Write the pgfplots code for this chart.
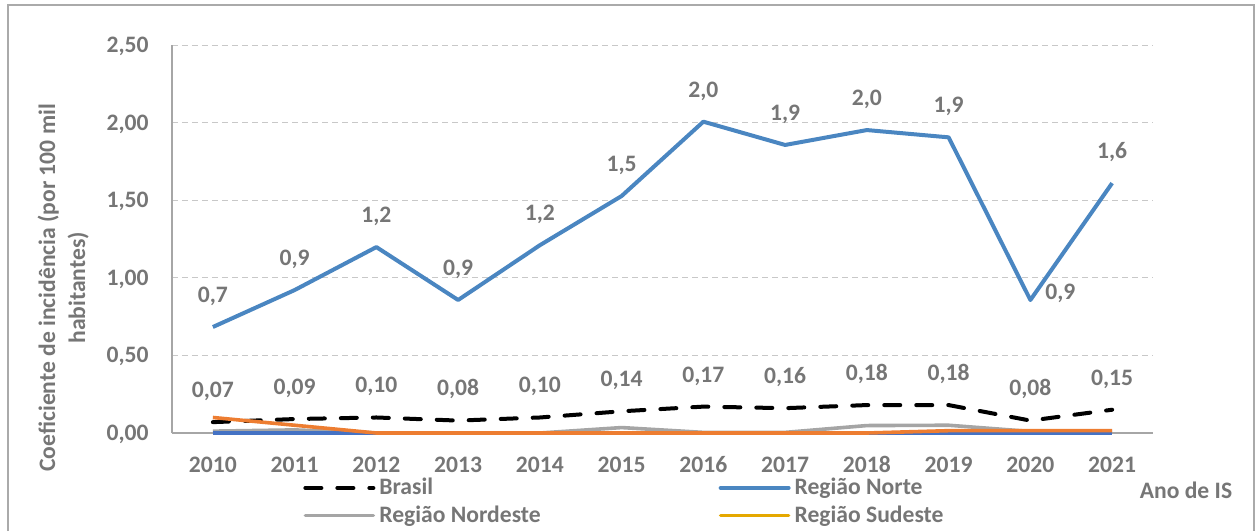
\documentclass[border=0pt]{standalone}
\usepackage{pgfplots}
\usepackage{pgfplotstable}
\pgfplotsset{compat=1.18}
\usepackage{fontspec}
\setmainfont{Carlito}
\definecolor{txtgray}{RGB}{118,118,118}
\definecolor{axgray}{RGB}{166,166,166}
\definecolor{gridgray}{RGB}{200,200,200}
\definecolor{norte}{RGB}{74,134,193}
\definecolor{nordeste}{RGB}{165,165,165}
\definecolor{sudeste}{RGB}{229,168,0}
\definecolor{sul}{RGB}{68,114,196}
\definecolor{coeste}{RGB}{237,125,49}
\definecolor{framegray}{RGB}{170,170,170}
\newcommand{\lf}{\fontsize{11.8}{15}\selectfont\bfseries}

\pgfplotstableread{
x y lbl dx dy
0 0.07 0,07 0 16
1 0.09 0,09 0 16
2 0.10 0,10 0 16
3 0.08 0,08 0 16
4 0.10 0,10 0 16
5 0.14 0,14 0 16
6 0.17 0,17 0 16
7 0.16 0,16 0 16
8 0.18 0,18 0 16
9 0.18 0,18 0 16
10 0.08 0,08 0 16
11 0.15 0,15 0 16
}\brasil

\pgfplotstableread{
x y lbl dx dy
0 0.683 0,7 0 16
1 0.921 0,9 0 16
2 1.198 1,2 0 16
3 0.857 0,9 0 16
4 1.21 1,2 0 16
5 1.527 1,5 0 16
6 2.006 2,0 0 16
7 1.856 1,9 0 16
8 1.952 2,0 0 16
9 1.905 1,9 0 16
10 0.857 0,9 15 4
11 1.61 1,6 0 16
}\norte

\pgfplotstableread{
x y
0 0.012
1 0.02
2 0.0
3 0.0
4 0.0
5 0.035
6 0.004
7 0.004
8 0.048
9 0.05
10 0.01
11 0.01
}\nordeste

\pgfplotstableread{
x y
0 0.0
1 0.0
2 0.0
3 0.0
4 0.0
5 0.0
6 0.0
7 0.0
8 0.0
9 0.0
10 0.0
11 0.0
}\sudeste

\pgfplotstableread{
x y
0 0.0
1 0.0
2 0.0
3 0.0
4 0.0
5 0.0
6 0.0
7 0.0
8 0.0
9 0.0
10 0.0
11 0.0
}\sul

\pgfplotstableread{
x y
0 0.10
1 0.05
2 0.0
3 0.0
4 0.0
5 0.0
6 0.0
7 0.0
8 0.0
9 0.015
10 0.015
11 0.015
}\coeste

\begin{document}
\begin{tikzpicture}
\begin{axis}[
  scale only axis, width=490.5pt, height=194pt,
  xmin=-0.5, xmax=11.5, ymin=0, ymax=2.5,
  xtick={0,...,11},
  xticklabels={2010,2011,2012,2013,2014,2015,2016,2017,2018,2019,2020,2021},
  ytick={0,0.5,1,1.5,2,2.5},
  axis x line*=bottom, axis y line*=left,
  x axis line style={draw=axgray, line width=0.6pt, -},
  y axis line style={draw=axgray, line width=0.6pt, -},
  major tick length=0pt, tick style={draw=none},
  ymajorgrids, grid style={draw=gridgray, dash pattern=on 3pt off 2pt, line width=0.5pt},
  clip=false,
  font=\lf,
  yticklabel style={/pgf/number format/.cd, fixed, fixed zerofill, precision=2, use comma, assume math mode=true, /tikz/.cd,
     font=\lf, text=txtgray, inner sep=0pt, anchor=east, xshift=-11.5pt, text height=7.4pt, text depth=0pt},
  xticklabel style={font=\lf, text=txtgray, inner sep=0pt, anchor=center, yshift=-16pt, text height=7.4pt, text depth=0pt},
  ylabel={Coeficiente de incidência (por 100 mil\\habitantes)},
  ylabel style={at={(axis description cs:-0.111,0.374)}, anchor=center, align=center, font=\lf, text=txtgray},
  xlabel={Ano de IS},
  xlabel style={at={(axis description cs:1.0336,-0.147)}, anchor=center, font=\lf, text=txtgray},
  legend columns=2,
  legend cell align=left,
  legend style={draw=none, fill=none, at={(axis description cs:0.1335,-0.105)}, anchor=north west,
     font=\lf, text=txtgray, inner sep=0pt, row sep=0pt,
     /tikz/every even column/.append style={column sep=87pt}},
  legend image code/.code={\draw[#1, line cap=round] (0pt,0pt) -- (34pt,0pt);},
  nodes near coords style={font=\lf, text=txtgray, inner sep=0pt, anchor=center, text height=7.4pt, text depth=0pt},
]
\addplot[black, line width=2pt, dash pattern=on 8pt off 8pt, line cap=round,
   point meta=explicit symbolic, nodes near coords,
   visualization depends on={\thisrow{dx}\as\mydx},
   visualization depends on={\thisrow{dy}\as\mydy},
   every node near coord/.append style={xshift=\mydx, yshift=\mydy}]
   table[x=x, y=y, meta=lbl] {\brasil};
\addlegendentry{Brasil}
\addplot[norte, line width=2pt, line join=round,
   point meta=explicit symbolic, nodes near coords,
   visualization depends on={\thisrow{dx}\as\mydx},
   visualization depends on={\thisrow{dy}\as\mydy},
   every node near coord/.append style={xshift=\mydx, yshift=\mydy}]
   table[x=x, y=y, meta=lbl] {\norte};
\addlegendentry{Região Norte}
\addplot[nordeste, line width=1.8pt, line join=round] table[x=x, y=y] {\nordeste};
\addlegendentry{Região Nordeste}
\addplot[sudeste, line width=1.8pt, line join=round] table[x=x, y=y] {\sudeste};
\addlegendentry{Região Sudeste}
\addplot[sul, line width=1.8pt, forget plot] table[x=x, y=y] {\sul};
\addplot[coeste, line width=1.8pt, line join=round, forget plot] table[x=x, y=y] {\coeste};
\end{axis}
\draw[framegray, line width=0.7pt] (-82pt,-49pt) -- (-82pt,214pt) -- (541pt,214pt) -- (541pt,-49pt);
\pgfresetboundingbox
\useasboundingbox (-86pt,-49pt) rectangle (542.5pt,216.5pt);
\end{tikzpicture}
\end{document}
